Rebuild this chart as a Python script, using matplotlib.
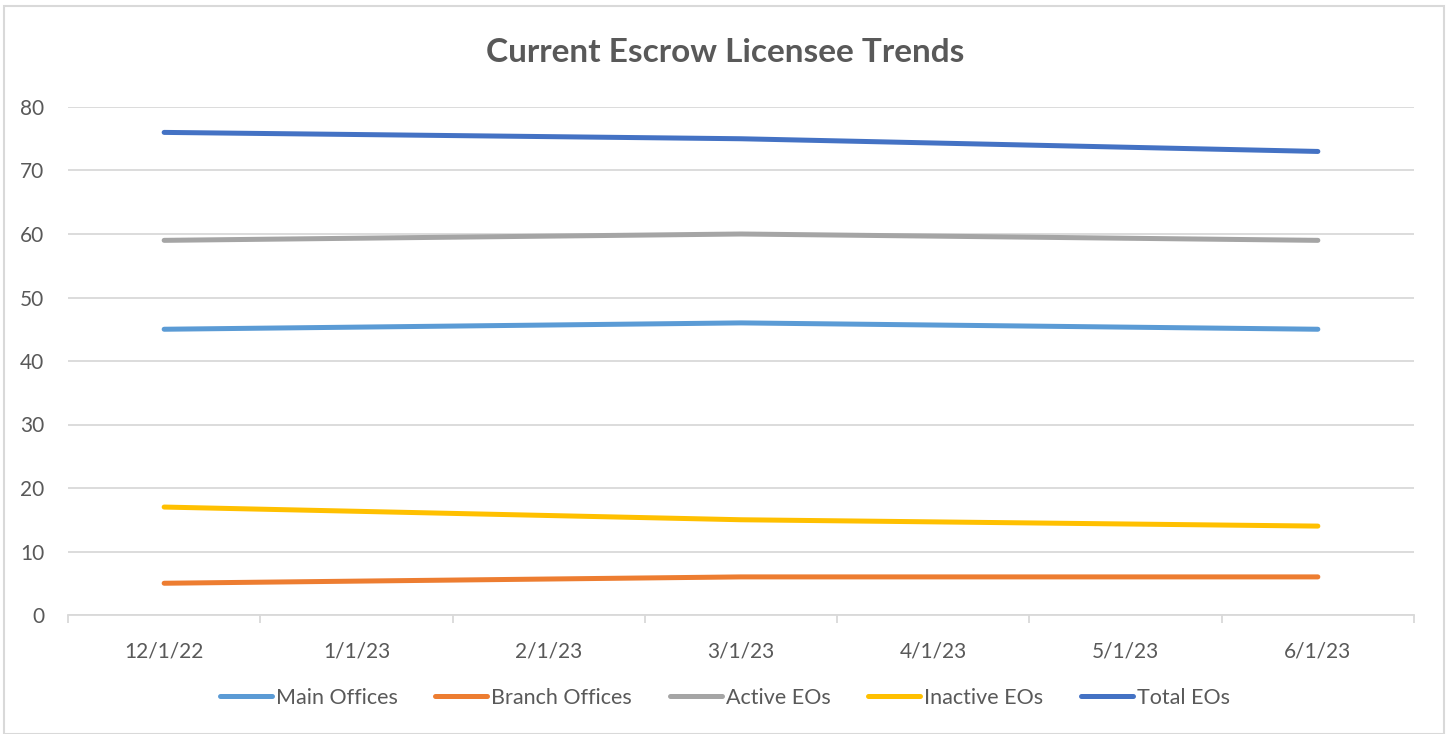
import matplotlib
matplotlib.use("Agg")
import matplotlib.pyplot as plt
import pandas as pd
import numpy as np
from matplotlib.patches import Rectangle

plt.rcParams['font.family'] = ['Lato', 'DejaVu Sans']

# ---- data ----
month_labels = ['12/1/22', '1/1/23', '2/1/23', '3/1/23', '4/1/23', '5/1/23', '6/1/23']
obs_dates = ['12/1/22', '3/1/23', '6/1/23']
series_names = ['Main Offices', 'Branch Offices', 'Active EOs', 'Inactive EOs', 'Total EOs']
main_offices = [45, 46, 45]
branch_offices = [5, 6, 6]
active_eos = [59, 60, 59]
inactive_eos = [17, 15, 14]
total_eos = [76, 75, 73]
colors = ['#5B9BD5', '#ED7D31', '#A5A5A5', '#FFC000', '#4472C4']

# map dates onto the monthly date axis
axis_dates = pd.to_datetime(month_labels, format='%m/%d/%y')
obs = pd.to_datetime(obs_dates, format='%m/%d/%y')
start = axis_dates[0]
x_obs = [(d.year - start.year) * 12 + d.month - start.month for d in obs]
x_ticks = np.arange(len(month_labels))

text_col = '#595959'
grid_col = '#D9D9D9'

fig = plt.figure(figsize=(14.5, 7.34), dpi=100)
ax = fig.add_axes([68/1450, 1-615/734, (1414-68)/1450, (615-107)/734])

values = [main_offices, branch_offices, active_eos, inactive_eos, total_eos]
for name, vals, c in zip(series_names, values, colors):
    ax.plot(x_obs, vals, color=c, lw=3.6, solid_capstyle='round', label=name, zorder=3)

ax.set_xlim(-0.5, len(month_labels) - 0.5)
ax.set_ylim(0, 80)
ax.set_yticks(range(0, 81, 10))
ax.yaxis.grid(True, color=grid_col, lw=1.3)
ax.set_axisbelow(True)
for s in ['top', 'right', 'left']:
    ax.spines[s].set_visible(False)
ax.spines['bottom'].set_color(grid_col)
ax.spines['bottom'].set_linewidth(1.3)

ax.set_xticks(x_ticks)
ax.set_xticklabels(month_labels)
ax.set_xticks(np.arange(-0.5, len(month_labels)), minor=True)
ax.tick_params(axis='x', which='major', length=0, pad=19, labelsize=15, labelcolor=text_col)
ax.tick_params(axis='x', which='minor', length=6, width=1.3, color=grid_col, direction='out')
ax.tick_params(axis='y', length=0, pad=17, labelsize=15, labelcolor=text_col)

fig.text(0.5, 1-52/734, 'Current Escrow Licensee Trends', ha='center', va='center',
         fontsize=24, fontweight='bold', color=text_col)

leg = fig.legend(loc='center', bbox_to_anchor=(0.5, 1-698/734), ncol=5, frameon=False,
                 fontsize=15.5, handlelength=2.4, handletextpad=0.2, columnspacing=1.75)
for t in leg.get_texts():
    t.set_color(text_col)
for h in leg.get_lines():
    h.set_linewidth(3.6)
    h.set_solid_capstyle('round')

fig.patches.append(Rectangle((4/1450, 0), (1444-4)/1450, 1-6/734, transform=fig.transFigure,
                             fill=False, edgecolor='#D9D9D9', lw=1.5))

fig.savefig('out.png', dpi=100)
